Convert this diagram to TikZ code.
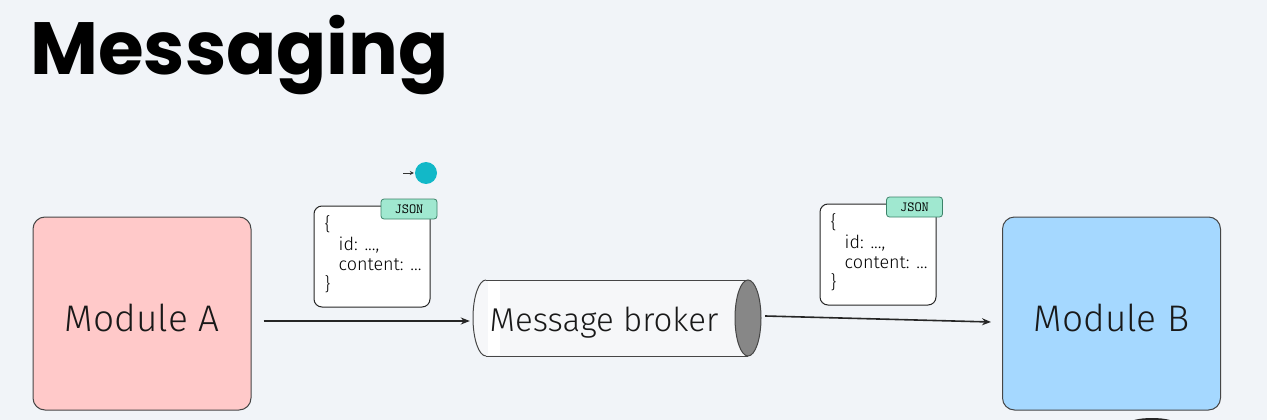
\documentclass[tikz,border=0pt]{standalone}
\usepackage{fontspec}
\setmainfont{Fira Sans}
\newfontfamily\titlefont{Poppins}
\newfontfamily\handfont{Fira Sans Light}
\usetikzlibrary{arrows.meta}
\definecolor{bgc}{RGB}{241,244,248}
\definecolor{pinkc}{RGB}{255,201,201}
\definecolor{bluec}{RGB}{165,216,255}
\definecolor{mintc}{RGB}{160,232,208}
\definecolor{mintd}{RGB}{60,130,105}
\definecolor{cyanc}{RGB}{18,184,200}
\definecolor{edgec}{RGB}{70,70,70}
\definecolor{capc}{RGB}{135,135,135}
\definecolor{tubec}{RGB}{246,247,249}
\tikzset{
  modbox/.style={draw=edgec, line width=1pt, rounded corners=12pt, minimum width=218pt, minimum height=193pt, font=\handfont\fontsize{37}{37}\selectfont, text=black!90},
  cardbox/.style={draw=black!85, fill=white, line width=1pt, rounded corners=8pt, minimum width=116pt, minimum height=101pt},
  tagbox/.style={draw=mintd, fill=mintc, line width=0.8pt, rounded corners=3pt, minimum width=56pt, minimum height=20pt, inner sep=0pt, font=\ttfamily\fontsize{14}{14}\selectfont},
  cardtxt/.style={anchor=base west, font=\handfont\fontsize{18}{18}\selectfont, inner sep=0pt},
  arr/.style={line width=1.6pt, black!85, -{Stealth[length=9pt,width=7pt]}},
}
\begin{document}
\begin{tikzpicture}[x=1pt,y=-1pt]
\fill[bgc] (0,0) rectangle (1267,420);
\useasboundingbox (0,0) rectangle (1267,420);

% title
\node[anchor=base west, inner sep=0pt, font=\titlefont\bfseries\fontsize{74}{74}\selectfont] (title) at (30,75) {Messaging};

% modules
\node[modbox, fill=pinkc] (A) at (142,313.5) {\rule{0pt}{36pt}Module A};
\node[modbox, fill=bluec] (B) at (1111.5,313.5) {\rule{0pt}{36pt}Module B};

% broker (cylinder)
\node[minimum width=289pt, minimum height=76pt, inner sep=0pt] (broker) at (617.5,318) {};
\fill[tubec] (486,280) -- (748,280) -- (748,356) -- (486,356) arc[start angle=90, end angle=270, x radius=13, y radius=38] -- cycle;
\fill[white] (488,281) rectangle (500,355);
\draw[edgec, line width=1pt] (486,356) arc[start angle=90, end angle=270, x radius=13, y radius=38];
\draw[edgec, line width=1pt] (486,280) -- (748,280);
\draw[edgec, line width=1pt] (486,356) -- (748,356);
\draw[edgec, line width=1pt, fill=capc] (748,318) ellipse[x radius=13, y radius=38];
\node[font=\handfont\fontsize{33}{33}\selectfont, text=black!90] (brokertxt) at (604,323) {Message broker};

% arrows
\draw[arr] ([xshift=12pt,yshift=-7.5pt]A.east) -- ([xshift=-3pt,yshift=-3pt]broker.west);
\draw[arr] ([xshift=3pt,yshift=2pt]broker.east) -- ([xshift=-11pt,yshift=-8.5pt]B.west);

% card 1
\node[cardbox] (c1) at (372,256.5) {};
\node[tagbox] (t1) at (409,209) {JSON};
\node[cardtxt] (c1a) at ([xshift=11pt,yshift=-25pt]c1.north west) {\{};
\node[cardtxt] (c1b) at ([xshift=25pt,yshift=-45pt]c1.north west) {id: ...,};
\node[cardtxt] (c1c) at ([xshift=25pt,yshift=-65pt]c1.north west) {content: ...};
\node[cardtxt] (c1d) at ([xshift=11pt,yshift=-85pt]c1.north west) {\}};

% card 2
\node[cardbox] (c2) at (878,254.5) {};
\node[tagbox] (t2) at (914.5,207) {JSON};
\node[cardtxt] (c2a) at ([xshift=11pt,yshift=-25pt]c2.north west) {\{};
\node[cardtxt] (c2b) at ([xshift=25pt,yshift=-45pt]c2.north west) {id: ...,};
\node[cardtxt] (c2c) at ([xshift=25pt,yshift=-65pt]c2.north west) {content: ...};
\node[cardtxt] (c2d) at ([xshift=11pt,yshift=-85pt]c2.north west) {\}};

% cyan dot with small arrow
\node[circle, fill=cyanc, minimum size=22pt, inner sep=0pt] (dot) at (426,173) {};
\coordinate (dotfrom) at (403,173);
\draw[line width=0.8pt, black!80, -{Stealth[length=4pt,width=4pt]}] (dotfrom) -- ([xshift=-1pt]dot.west);

% partial dark shape at the bottom edge
\fill[black!85] (1152,424) ellipse[x radius=24, y radius=6];
\end{tikzpicture}
\end{document}
